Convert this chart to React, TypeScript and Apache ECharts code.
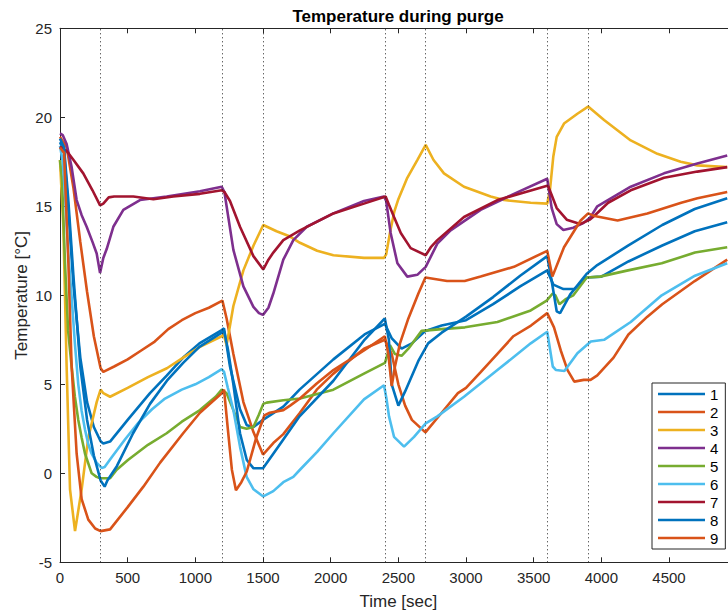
import React, { useEffect, useRef } from "react";
import * as echarts from "echarts";

// ---- data ----
const seriesNames = ["1", "2", "3", "4", "5", "6", "7", "8", "9"];
const seriesColors = ["#0072BD", "#D95319", "#EDB120", "#7E2F8E", "#77AC30", "#4DBEEE", "#A2142F", "#0072BD", "#D95319"];
const purgeTimes = [300, 1200, 1500, 2400, 2700, 3600, 3900];
const xTicks = { min: 0, max: 5000, interval: 500 };
const yTicks = { min: -5, max: 25, interval: 5 };

const s1 = [[0,18.6],[30,18.1],[60,15],[100,10.5],[150,6.5],[200,4],[250,2.6],[300,1.8],[320,1.68],[370,1.78],[500,3.0],[665,4.5],[790,5.5],[910,6.5],[1030,7.3],[1195,8.05],[1212,8.14],[1256,6.0],[1330,3.6],[1380,2.7],[1430,2.6],[1500,3.0],[1650,3.75],[1770,4.7],[2020,6.4],[2250,7.8],[2400,8.4],[2450,7.6],[2524,7.0],[2600,7.3],[2700,8.0],[2820,8.3],[3000,8.6],[3200,9.5],[3400,10.5],[3600,11.4],[3645,10.6],[3720,10.35],[3800,10.35],[3890,11.0],[4000,11.05],[4200,11.9],[4450,12.8],[4690,13.6],[4930,14.1]];
const s2 = [[0,18.9],[50,18.3],[100,16],[150,13],[200,10.2],[250,7.7],[300,5.9],[320,5.7],[400,6.0],[500,6.4],[600,6.9],[700,7.4],[800,8.1],[900,8.6],[1000,9.0],[1100,9.3],[1200,9.7],[1231,8.7],[1281,6.7],[1355,4.0],[1430,2.3],[1500,1.05],[1576,1.7],[1650,2.2],[1773,3.4],[1897,4.7],[2020,5.6],[2246,7.0],[2400,7.5],[2451,6.7],[2500,5.0],[2550,3.8],[2600,3.0],[2700,2.3],[2820,3.4],[2940,4.5],[3000,4.8],[3110,5.7],[3230,6.7],[3350,7.7],[3480,8.3],[3600,9.0],[3650,8.2],[3700,6.9],[3750,5.8],[3800,5.15],[3870,5.25],[3920,5.25],[3970,5.5],[4090,6.5],[4200,7.8],[4340,8.8],[4450,9.5],[4690,10.8],[4930,12.0]];
const s3 = [[0,17.6],[25,13.8],[49,6.0],[74,-0.9],[111,-3.25],[160,-0.9],[209,2.0],[271,4.0],[300,4.7],[320,4.5],[370,4.3],[500,4.8],[650,5.4],[790,5.9],[910,6.5],[1034,7.1],[1195,7.7],[1210,7.8],[1231,7.2],[1281,9.4],[1355,11.4],[1430,12.8],[1502,13.95],[1600,13.6],[1700,13.3],[1773,12.95],[1900,12.5],[2020,12.25],[2246,12.1],[2394,12.1],[2410,12.3],[2440,13.6],[2470,14.7],[2500,15.4],[2566,16.6],[2640,17.6],[2702,18.45],[2760,17.6],[2837,16.85],[2985,16.1],[3182,15.55],[3281,15.35],[3478,15.2],[3600,15.15],[3620,15.9],[3645,17.8],[3670,18.9],[3724,19.65],[3823,20.2],[3902,20.6],[4020,19.85],[4217,18.7],[4414,17.95],[4586,17.5],[4709,17.3],[4930,17.2]];
const s4 = [[0,19.1],[20,19.0],[49,18.5],[86,17.2],[123,15.35],[160,14.5],[197,13.85],[240,13.0],[271,12.35],[296,11.25],[320,12.1],[345,12.6],[394,13.85],[468,14.8],[591,15.35],[788,15.55],[1034,15.85],[1195,16.1],[1215,15.8],[1231,15.0],[1281,12.55],[1355,10.5],[1429,9.35],[1470,9.0],[1500,8.9],[1540,9.3],[1576,10.1],[1650,12.0],[1724,13.1],[1823,13.85],[2020,14.6],[2246,15.3],[2394,15.55],[2410,15.3],[2443,13.5],[2493,11.8],[2566,11.05],[2640,11.15],[2702,11.6],[2788,12.9],[2886,13.65],[3108,14.8],[3354,15.7],[3600,16.55],[3633,14.9],[3670,14.0],[3719,13.67],[3793,13.8],[3867,14.06],[3916,14.35],[3970,15.0],[4217,16.1],[4463,16.85],[4709,17.4],[4930,17.85]];
const s5 = [[0,17.6],[15,16.5],[37,11.8],[60,8],[86,6.0],[110,4.3],[135,3.0],[160,2.0],[185,1.1],[234,0.0],[270,-0.2],[296,-0.28],[370,-0.28],[419,0.2],[502,0.75],[650,1.6],[788,2.25],[900,2.9],[1034,3.55],[1150,4.3],[1195,4.7],[1231,4.5],[1281,3.55],[1330,2.6],[1379,2.5],[1429,2.6],[1470,3.3],[1502,3.9],[1527,3.97],[1650,4.1],[1773,4.2],[2020,4.7],[2246,5.6],[2401,6.2],[2420,6.7],[2438,7.2],[2475,6.7],[2524,6.6],[2574,7.0],[2672,8.0],[2820,8.1],[2992,8.2],[3232,8.5],[3478,9.15],[3596,9.7],[3640,10.1],[3660,10.0],[3690,9.5],[3740,9.8],[3793,10.0],[3892,11.0],[3990,11.05],[4197,11.4],[4446,11.8],[4692,12.4],[4930,12.7]];
const s6 = [[0,18.4],[20,17.5],[37,15.7],[60,12.5],[86,9.9],[110,7.3],[135,5.0],[160,3.5],[185,2.45],[210,1.6],[234,1.1],[270,0.6],[308,0.3],[330,0.35],[382,0.9],[480,1.9],[580,2.85],[680,3.6],[776,4.2],[900,4.7],[1000,5.0],[1100,5.4],[1195,5.85],[1212,5.7],[1240,4.8],[1281,3.55],[1330,1.5],[1379,-0.2],[1430,-0.9],[1502,-1.3],[1576,-1.0],[1650,-0.5],[1724,-0.2],[1773,0.2],[1900,1.2],[2020,2.25],[2246,4.15],[2394,4.95],[2412,4.2],[2431,3.2],[2468,2.05],[2542,1.5],[2616,2.05],[2702,2.8],[2788,3.2],[2985,4.3],[3232,5.8],[3478,7.3],[3600,7.95],[3620,7.0],[3641,6.0],[3665,5.8],[3727,5.75],[3823,6.75],[3922,7.4],[4020,7.5],[4217,8.5],[4446,10.0],[4692,11.1],[4930,11.8]];
const s7 = [[0,18.35],[50,18.1],[100,17.6],[172,16.85],[240,15.9],[296,15.05],[320,15.15],[360,15.5],[400,15.55],[542,15.55],[690,15.4],[837,15.55],[1034,15.7],[1195,15.9],[1215,15.8],[1256,15.3],[1330,13.85],[1429,12.2],[1502,11.45],[1540,12.0],[1576,12.4],[1650,13.1],[1773,13.65],[2020,14.6],[2246,15.15],[2406,15.55],[2430,15.1],[2468,14.4],[2518,13.5],[2591,12.65],[2702,12.25],[2740,12.7],[2788,13.1],[2985,14.4],[3232,15.35],[3600,16.15],[3609,16.1],[3670,14.9],[3744,14.25],[3843,14.0],[3916,14.25],[3953,14.5],[4050,15.2],[4217,15.9],[4463,16.6],[4709,16.95],[4930,17.2]];
const s8 = [[0,18.8],[30,18.3],[60,15.5],[100,11],[150,6],[200,3],[250,1],[300,-0.4],[330,-0.75],[350,-0.4],[420,0.4],[540,2.25],[665,3.9],[790,5.2],[910,6.2],[1030,7.1],[1195,7.9],[1212,8.0],[1240,7.0],[1281,5.0],[1330,2.25],[1380,0.75],[1430,0.28],[1500,0.28],[1576,1.1],[1650,1.9],[1770,3.2],[2020,5.2],[2250,7.5],[2400,8.7],[2430,7.5],[2451,5.0],[2500,3.8],[2550,4.6],[2650,6.35],[2720,7.3],[2820,7.9],[3000,8.8],[3200,9.9],[3400,11.1],[3600,12.2],[3633,10.8],[3670,9.1],[3695,9.0],[3770,10.05],[3890,11.2],[3970,11.7],[4200,12.8],[4450,13.95],[4690,14.85],[4930,15.45]];
const s9 = [[0,18.3],[30,18.0],[62,11.8],[86,6.0],[123,1.1],[160,-1.45],[209,-2.6],[260,-3.1],[300,-3.25],[370,-3.15],[500,-1.9],[616,-0.75],[740,0.6],[910,2.25],[1034,3.4],[1195,4.5],[1212,4.7],[1240,2.5],[1270,0.2],[1300,-0.95],[1340,-0.5],[1380,0.1],[1450,2.0],[1510,3.25],[1550,3.4],[1650,3.55],[1700,3.8],[1773,4.2],[1897,5.05],[2020,5.8],[2246,6.9],[2400,7.7],[2426,6.7],[2451,4.9],[2475,6.0],[2512,7.3],[2574,8.7],[2648,10.1],[2700,11.0],[2860,10.8],[2990,10.8],[3108,11.05],[3354,11.6],[3600,12.5],[3638,11.05],[3724,12.7],[3847,14.2],[3902,14.6],[3950,14.45],[4120,14.2],[4340,14.6],[4590,15.2],[4710,15.45],[4930,15.8]];
const allSeries = [s1, s2, s3, s4, s5, s6, s7, s8, s9];

const FONT = '"Liberation Sans", Arial, Helvetica, sans-serif';
const AXIS = "#262626";

export default function App() {
  const ref = useRef<HTMLDivElement>(null);
  useEffect(() => {
    if (!ref.current) return;
    const chart = echarts.init(ref.current, undefined, { renderer: "svg" });
    const lineSeries: any[] = allSeries.map((d, i) => ({
      name: seriesNames[i],
      type: "line",
      data: d,
      showSymbol: false,
      symbol: "none",
      color: seriesColors[i],
      lineStyle: { width: 2.6, color: seriesColors[i] },
      z: 3,
    }));
    lineSeries.push({
      name: "purge",
      type: "line",
      data: [],
      z: 1,
      markLine: {
        silent: true,
        symbol: ["none", "none"],
        label: { show: false },
        lineStyle: { type: [1, 3], color: AXIS, width: 1 },
        data: purgeTimes.map((t) => ({ xAxis: t })),
      },
    });
    const plain = (v: number) => String(v);
    const option: any = {
      animation: false,
      backgroundColor: "#ffffff",
      textStyle: { fontFamily: FONT },
      graphic: [
        {
          type: "text",
          x: 398,
          y: 16,
          style: {
            text: "Temperature during purge",
            font: `bold 17px ${FONT}`,
            fill: "#000",
            textAlign: "center",
            textVerticalAlign: "middle",
            align: "center",
            verticalAlign: "middle",
          },
        },
      ],
      grid: { left: 60, top: 28.3, width: 676.7, height: 534, containLabel: false, outerBoundsMode: "none" },
      legend: {
        data: seriesNames,
        orient: "vertical",
        left: 652,
        top: 383,
        icon: "rect",
        itemWidth: 47,
        itemHeight: 2.5,
        itemGap: 0,
        padding: [2, 7, 2, 6],
        borderColor: AXIS,
        borderWidth: 1,
        backgroundColor: "#fff",
        selectedMode: false,
        textStyle: { fontSize: 15, color: "#000", fontFamily: FONT, lineHeight: 18, padding: [0, 0, 0, 0] },
      },
      xAxis: [
        {
          type: "value",
          min: xTicks.min,
          max: xTicks.max,
          interval: xTicks.interval,
          name: "Time [sec]",
          nameLocation: "middle",
          nameGap: 31,
          nameMoveOverlap: false,
          nameTextStyle: { fontSize: 17, color: AXIS, fontFamily: FONT },
          axisLine: { show: true, onZero: false, lineStyle: { color: AXIS, width: 1 } },
          axisTick: { show: true, inside: true, length: 5, lineStyle: { color: AXIS } },
          axisLabel: { fontSize: 15, color: AXIS, fontFamily: FONT, margin: 8, showMaxLabel: false, formatter: plain },
          splitLine: { show: false },
        },
        {
          type: "value",
          position: "top",
          min: xTicks.min,
          max: xTicks.max,
          interval: xTicks.interval,
          axisLine: { show: true, onZero: false, lineStyle: { color: AXIS, width: 1 } },
          axisTick: { show: true, inside: true, length: 5, lineStyle: { color: AXIS } },
          axisLabel: { show: false },
          splitLine: { show: false },
        },
      ],
      yAxis: {
        type: "value",
        min: yTicks.min,
        max: yTicks.max,
        interval: yTicks.interval,
        name: "Temperature [°C]",
        nameLocation: "middle",
        nameGap: 30,
        nameMoveOverlap: false,
        nameTextStyle: { fontSize: 17, color: AXIS, fontFamily: FONT },
        axisLine: { show: true, onZero: false, lineStyle: { color: AXIS, width: 1 } },
        axisTick: { show: true, inside: true, length: 5, lineStyle: { color: AXIS } },
        axisLabel: { fontSize: 15, color: AXIS, fontFamily: FONT, margin: 8, formatter: plain },
        splitLine: { show: false },
      },
      series: lineSeries,
    };
    chart.setOption(option);
    return () => chart.dispose();
  }, []);
  return (
    <div style={{ position: "fixed", left: 0, top: 0, width: 728, height: 613, overflow: "hidden", background: "#fff" }}>
      <div ref={ref} style={{ width: 745, height: 613 }} />
    </div>
  );
}
